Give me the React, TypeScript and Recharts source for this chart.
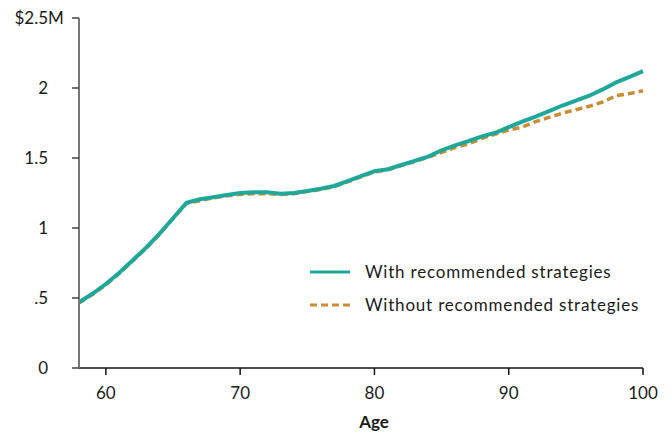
import React from "react";
import {
  LineChart,
  Line,
  XAxis,
  YAxis,
} from "recharts";

// Projected portfolio value by age, in millions of dollars
const ages = [
  58, 59, 60, 61, 62, 63, 64, 65, 66, 67, 68, 69, 70, 71, 72, 73, 74, 75, 76, 77, 78, 79,
  80, 81, 82, 83, 84, 85, 86, 87, 88, 89, 90, 91, 92, 93, 94, 95, 96, 97, 98, 99, 100,
];

const withStrategies = [
  0.47, 0.53, 0.6, 0.68, 0.77, 0.86, 0.96, 1.07, 1.18, 1.205, 1.22, 1.235, 1.25, 1.255,
  1.255, 1.245, 1.25, 1.265, 1.28, 1.3, 1.335, 1.37, 1.405, 1.42, 1.45, 1.48, 1.51, 1.555,
  1.59, 1.62, 1.655, 1.68, 1.72, 1.76, 1.795, 1.835, 1.875, 1.91, 1.945, 1.99, 2.04, 2.08,
  2.12,
];

const withoutStrategies = [
  0.465, 0.525, 0.595, 0.675, 0.765, 0.855, 0.955, 1.065, 1.175, 1.195, 1.215, 1.23, 1.24,
  1.245, 1.245, 1.24, 1.245, 1.26, 1.275, 1.295, 1.33, 1.365, 1.4, 1.415, 1.445, 1.475,
  1.505, 1.54, 1.575, 1.6, 1.64, 1.67, 1.7, 1.72, 1.76, 1.79, 1.82, 1.845, 1.87, 1.9, 1.945,
  1.96, 1.98,
];

const xTicks = [60, 70, 80, 90, 100];
const yTicks = [0, 0.5, 1, 1.5, 2, 2.5];

const seriesNames = ["With recommended strategies", "Without recommended strategies"];

const data = ages.map((age, i) => ({
  age,
  withRec: withStrategies[i],
  withoutRec: withoutStrategies[i],
}));

const TEAL = "#1fa89a";
const GOLD = "#c98e33";
const FONT = "Lato, 'Noto Sans', sans-serif";
const INK = "#1a1a1a";

const fmtY = (v: number) => {
  if (v === 0) return "0";
  if (v < 1) return String(v).replace(/^0/, "");
  return String(v);
};

const YTick = (props: any) => {
  const { x, y, payload } = props;
  const v = payload.value as number;
  const right = x - 22;
  if (v === 2.5) {
    return (
      <g>
        <text x={right} y={y} dy={6} textAnchor="end" fontSize={17} fill={INK} fontFamily={FONT}>
          $2.5
        </text>
        <text x={right} y={y} dy={6} textAnchor="start" fontSize={17} fill={INK} fontFamily={FONT}>
          M
        </text>
      </g>
    );
  }
  return (
    <text x={right} y={y} dy={6} textAnchor="end" fontSize={17} fill={INK} fontFamily={FONT}>
      {fmtY(v)}
    </text>
  );
};

const XTick = (props: any) => {
  const { x, y, payload } = props;
  return (
    <text x={x} y={y} dy={22} textAnchor="middle" fontSize={17} fill={INK} fontFamily={FONT}>
      {payload.value}
    </text>
  );
};

// legend sits inside the plot, lower right
const LegendBox = () => (
  <div
    style={{
      position: "absolute",
      left: 310,
      top: 255,
      fontFamily: FONT,
      fontSize: 17,
      letterSpacing: 0.8,
      color: INK,
    }}
  >
    {seriesNames.map((name, i) => (
      <div key={name} style={{ display: "flex", alignItems: "center", height: 33 }}>
        <svg width={40} height={6} style={{ marginRight: 15 }}>
          <line
            x1={0}
            y1={3}
            x2={40}
            y2={3}
            stroke={i === 0 ? TEAL : GOLD}
            strokeWidth={3}
            strokeDasharray={i === 0 ? undefined : "7 4"}
          />
        </svg>
        <span>{name}</span>
      </div>
    ))}
  </div>
);

export default function App() {
  return (
    <div style={{ position: "absolute", left: 0, top: 0, width: 672, height: 434, background: "#fff" }}>
      <LineChart
        width={672}
        height={434}
        data={data}
        margin={{ top: 18, right: 29, left: 0, bottom: 16 }}
      >
        <XAxis
          dataKey="age"
          type="number"
          domain={[58, 100]}
          ticks={xTicks}
          axisLine={{ stroke: "#111", strokeWidth: 1.5 }}
          tickLine={{ stroke: "#111", strokeWidth: 1.5 }}
          tickSize={7}
          tick={<XTick />}
          height={50}
          label={{
            value: "Age",
            position: "insideBottom",
            dx: 13,
            dy: 15,
            style: { fontFamily: FONT, fontSize: 17, fontWeight: 700, fill: INK },
          }}
        />
        <YAxis
          type="number"
          domain={[0, 2.5]}
          ticks={yTicks}
          width={79}
          axisLine={{ stroke: "#777", strokeWidth: 2 }}
          tickLine={{ stroke: "#444", strokeWidth: 1.5 }}
          tickSize={7}
          tick={<YTick />}
        />
        <Line
          type="linear"
          dataKey="withoutRec"
          stroke={GOLD}
          strokeWidth={3.5}
          strokeDasharray="7 4"
          dot={false}
          isAnimationActive={false}
        />
        <Line
          type="linear"
          dataKey="withRec"
          stroke={TEAL}
          strokeWidth={4}
          dot={false}
          isAnimationActive={false}
        />
      </LineChart>
      <LegendBox />
    </div>
  );
}
